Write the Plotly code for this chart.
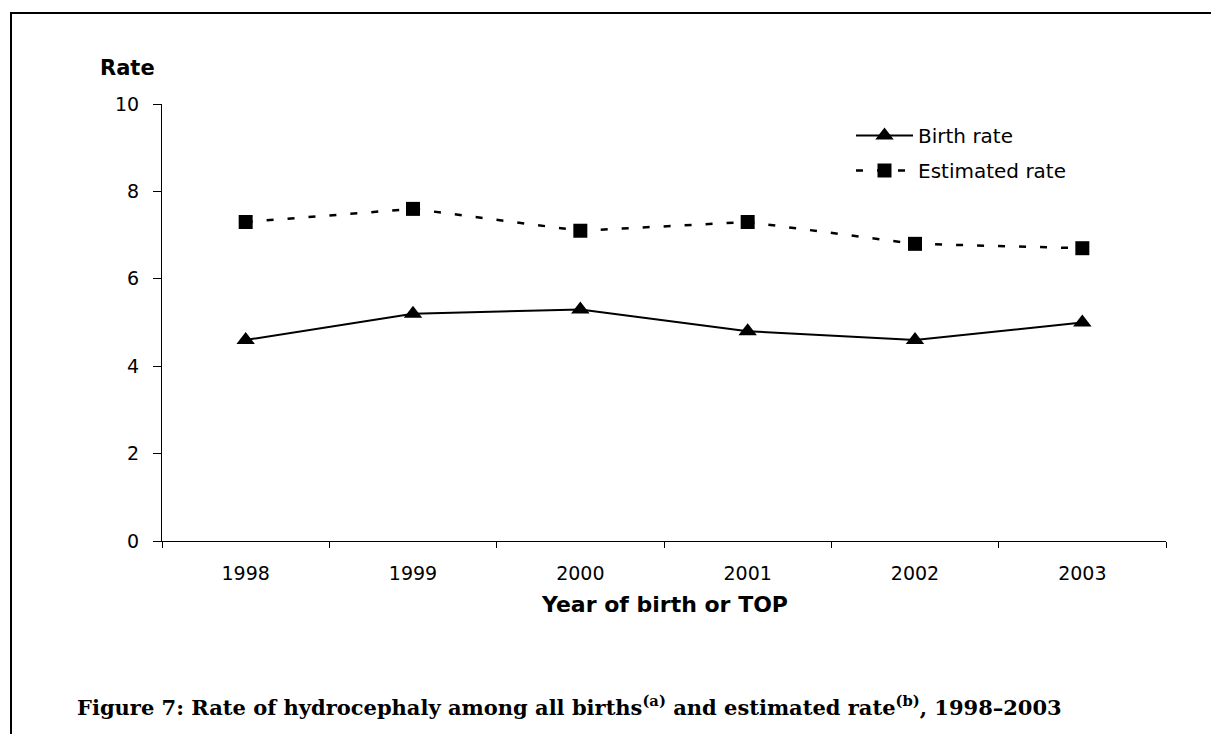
import plotly.graph_objects as go

years = ["1998", "1999", "2000", "2001", "2002", "2003"]
birth_rate = [4.6, 5.2, 5.3, 4.8, 4.6, 5.0]
estimated_rate = [7.3, 7.6, 7.1, 7.3, 6.8, 6.7]
y_ticks = [0, 2, 4, 6, 8, 10]

# the page body adds an 8px margin, so the figure is drawn 8px smaller
OFF = 8
W, H = 1219 - OFF, 734 - OFF
L, R, T, B = 162 - OFF, 53, 104 - OFF, 193
pw, ph = W - L - R, H - T - B


def px_x(x):
    # x position in reference pixels -> paper units
    return (x - OFF - L) / pw


def px_y(y):
    return (H - B - (y - OFF)) / ph


SANS = "DejaVu Sans, Arial, sans-serif"
axis_font = dict(family=SANS, size=19, color="black")

fig = go.Figure()
fig.add_trace(go.Scatter(
    x=years, y=birth_rate, name="Birth rate", mode="lines+markers",
    line=dict(color="black", width=2),
    marker=dict(symbol="triangle-up", size=16, color="black"),
    legendgroup="a",
))
fig.add_trace(go.Scatter(
    x=years, y=estimated_rate, name="Estimated rate", mode="lines+markers",
    line=dict(color="black", width=2.5, dash="7px,14px"),
    marker=dict(symbol="square", size=14, color="black"),
    legendgroup="b",
))

fig.update_layout(
    width=W, height=H,
    margin=dict(l=L, r=R, t=T, b=B),
    paper_bgcolor="white", plot_bgcolor="white",
    font=axis_font,
    showlegend=True,
    legend=dict(x=px_x(851), y=px_y(116), xanchor="left", yanchor="top",
                font=dict(family=SANS, size=20, color="black"),
                itemwidth=57, tracegroupgap=6, bgcolor="rgba(0,0,0,0)"),
    xaxis=dict(type="category", showgrid=False, showline=True, linecolor="black",
               linewidth=1, ticks="outside", tickson="boundaries", ticklen=6,
               tickcolor="black", tickfont=axis_font, range=[-0.5, 5.5],
               ticklabelstandoff=15),
    yaxis=dict(range=[0, 10], tickvals=y_ticks, showgrid=False, showline=True,
               linecolor="black", linewidth=1, ticks="outside", ticklen=8,
               tickcolor="black", tickfont=axis_font, zeroline=False,
               ticklabelstandoff=10),
)

fig.add_annotation(x=px_x(127), y=px_y(68), xref="paper", yref="paper",
                   xanchor="center", yanchor="middle",
                   text="<b>Rate</b>", showarrow=False,
                   font=dict(family=SANS, size=21, color="black"))
fig.add_annotation(x=0.5, y=px_y(604), xref="paper", yref="paper",
                   xanchor="center", yanchor="middle",
                   text="<b>Year of birth or TOP</b>", showarrow=False,
                   font=dict(family=SANS, size=22, color="black"))
fig.add_annotation(
    x=px_x(75), y=px_y(706), xref="paper", yref="paper",
    xanchor="left", yanchor="middle",
    text="<b>Figure 7: Rate of hydrocephaly among all births<sup>(a)</sup> and "
         "estimated rate<sup>(b)</sup>, 1998\u20132003</b>",
    showarrow=False,
    font=dict(family="DejaVu Serif, Liberation Serif, serif", size=21, color="black"),
)

# outer frame of the figure (right and bottom edges run off the page)
fig.add_shape(type="rect", xref="paper", yref="paper",
              x0=px_x(11), x1=px_x(1250), y0=px_y(760), y1=px_y(13),
              line=dict(color="black", width=2), fillcolor="rgba(0,0,0,0)")

fig.write_html("out.html")
